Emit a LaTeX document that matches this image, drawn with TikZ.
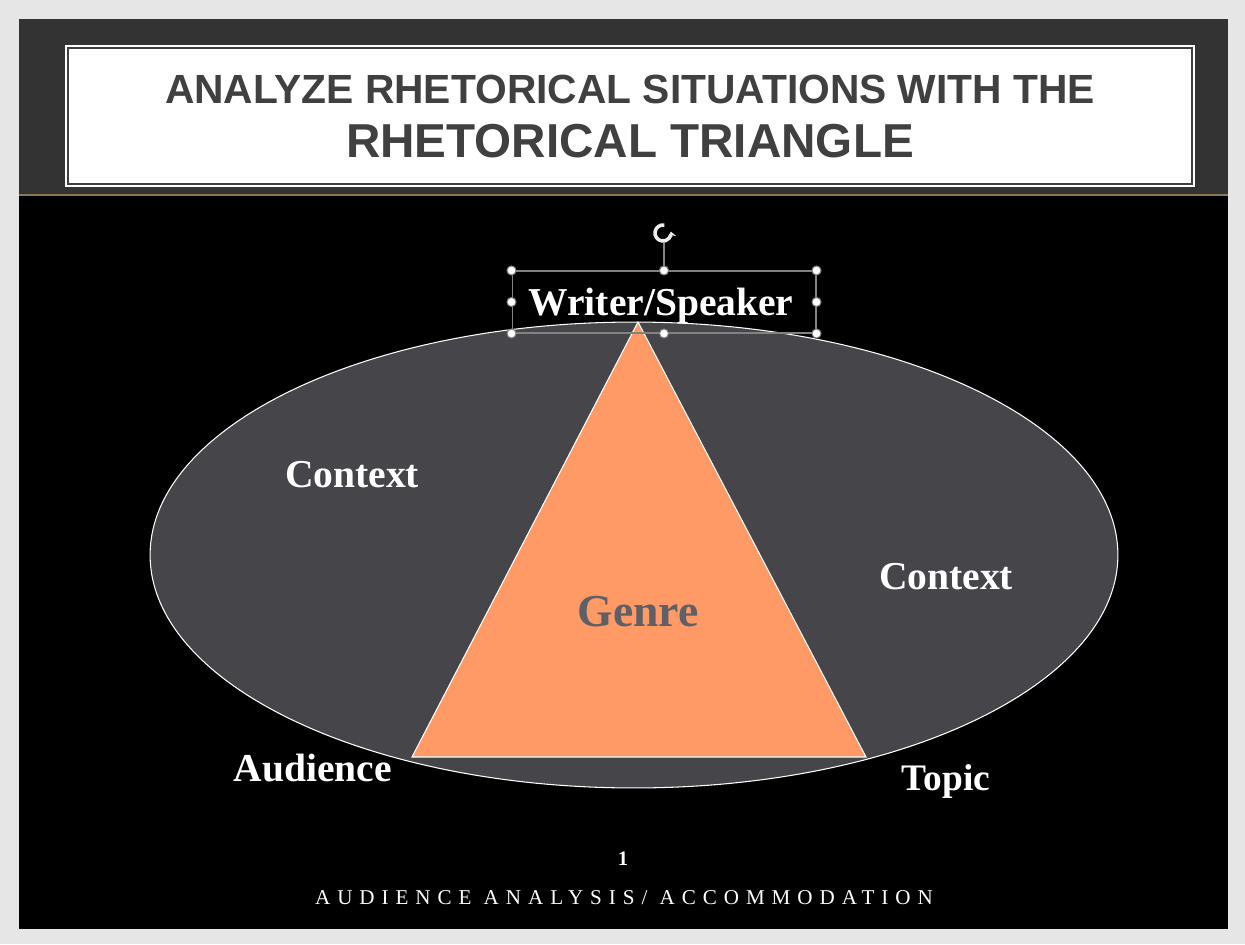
\documentclass[tikz,border=0pt]{standalone}
\usepackage{fontspec}
\setmainfont{Liberation Serif}
\setsansfont{Liberation Sans}
\usetikzlibrary{shapes.geometric, arrows.meta}

\definecolor{pagegray}{RGB}{230,230,230}
\definecolor{bandgray}{RGB}{51,51,51}
\definecolor{rulegold}{RGB}{140,120,85}
\definecolor{titlegray}{RGB}{64,64,64}
\definecolor{ovalgray}{RGB}{70,69,74}
\definecolor{genreorange}{RGB}{255,153,102}
\definecolor{genretext}{RGB}{95,95,102}
\definecolor{handlegray}{RGB}{130,130,130}

\begin{document}
\begin{tikzpicture}[x=0.02cm, y=-0.02cm,
	lbl/.style={text=white, font=\bfseries\fontsize{22.5}{27}\selectfont, inner sep=0pt},
	handle/.style={circle, fill=white, draw=handlegray, line width=0.6pt, inner sep=0pt, minimum size=0.18cm}]

	% page and slide
	\fill[pagegray] (0,0) rectangle (1245,944);
	\fill[black] (19,195) rectangle (1228,929);
	\fill[bandgray] (19,19) rectangle (1228,195);
	\draw[rulegold, line width=1pt] (19,195) -- (1228,195);

	% title box
	\fill[white] (65,45) rectangle (1195,187);
	\draw[titlegray, line width=1pt] (68,48) rectangle (1192,184);
	\node[anchor=base, text=titlegray, font=\sffamily\bfseries\fontsize{23.2}{28}\selectfont, inner sep=0pt]
		(title1) at (630,103) {ANALYZE RHETORICAL SITUATIONS WITH THE};
	\node[anchor=base, text=titlegray, font=\sffamily\bfseries\fontsize{27.1}{32}\selectfont, inner sep=0pt]
		(title2) at (630,157) {RHETORICAL TRIANGLE};

	% context oval and triangle
	\node[ellipse, fill=ovalgray, draw=white, line width=0.6pt, minimum width=19.36cm, minimum height=9.32cm, inner sep=0pt]
		(oval) at (634,555) {};
	\coordinate (writer) at (638,322);
	\coordinate (audience) at (412,757);
	\coordinate (topic) at (866,757);
	\filldraw[fill=genreorange, draw=white, line width=0.6pt] (writer) -- (audience) -- (topic) -- cycle;

	% labels
	\node[lbl, anchor=base] (ctxleft) at (352,487) {Context};
	\node[lbl, anchor=base] (ctxright) at (946,589) {Context};
	\node[anchor=base, text=genretext, font=\bfseries\fontsize{26}{31}\selectfont, inner sep=0pt]
		(genre) at (638,626) {Genre};
	\node[lbl, anchor=base] (aud) at (313,781) {Audience};
	\node[lbl, anchor=base, font=\bfseries\fontsize{21.3}{26}\selectfont] (top) at (946,790) {Topic};

	% writer/speaker with selection frame
	\node[lbl, anchor=base] (ws) at (661,315) {Writer/Speaker};
	\node[draw=handlegray, line width=0.6pt, minimum width=6.08cm, minimum height=1.24cm, inner sep=0pt]
		(wsframe) at (664,302) {};
	\draw[handlegray, line width=0.6pt] (wsframe.north) -- ++(0,-28) coordinate (rot);
	\coordinate (rotc) at (663,233);
	\draw[white!85!gray, line width=2pt, -{Stealth[length=3pt, width=5pt]}]
		([shift={(80:0.16cm)}]rotc) arc[start angle=80, delta angle=290, radius=0.16cm];
	\foreach \a in {north west, north, north east, east, south east, south, south west, west}
		\node[handle] at (wsframe.\a) {};

	% footer
	\node[anchor=base, text=white, font=\bfseries\fontsize{11.7}{14}\selectfont, inner sep=0pt] (pagenum) at (623,865) {1};
	\node[anchor=base, text=white, font=\fontsize{12}{14}\selectfont\addfontfeature{LetterSpace=33}, inner sep=0pt]
		(footer) at (624,904) {AUDIENCE ANALYSIS/ ACCOMMODATION};

\end{tikzpicture}
\end{document}
